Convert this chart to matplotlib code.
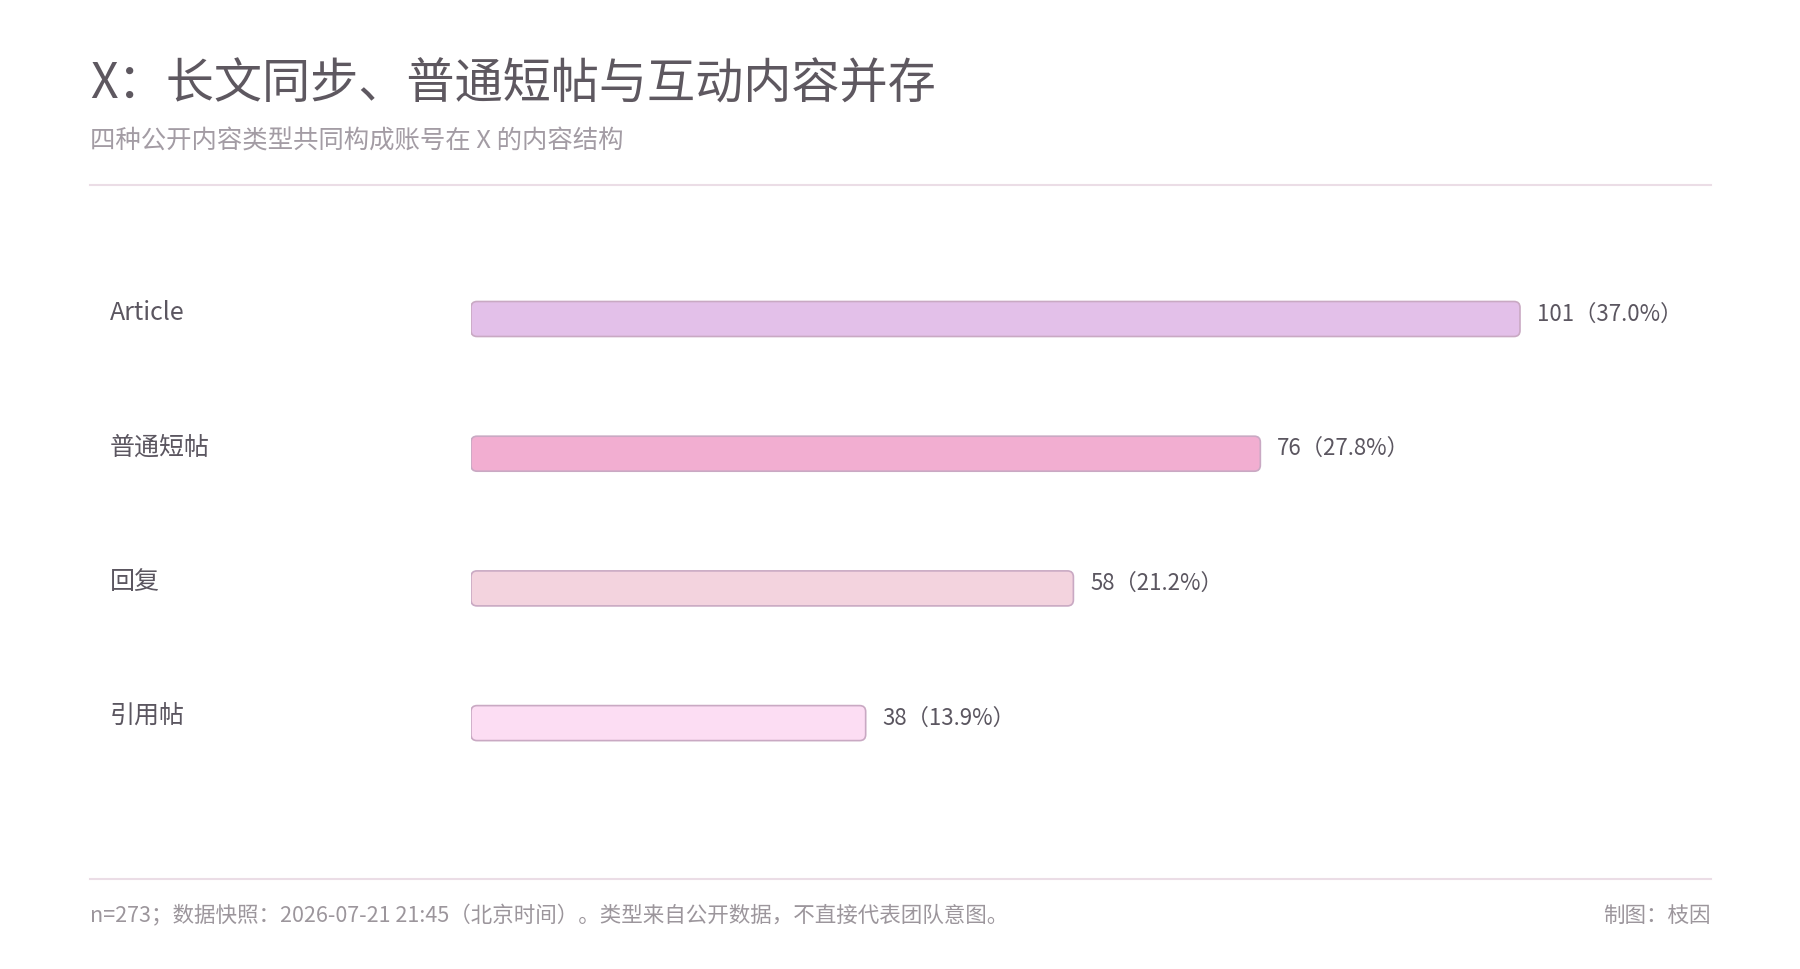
import matplotlib.pyplot as plt
from matplotlib.patches import FancyBboxPatch
from matplotlib.lines import Line2D

plt.rcParams['font.family'] = ['Noto Sans CJK SC', 'DejaVu Sans']

categories = ["Article", "普通短帖", "回复", "引用帖"]
counts = [101, 76, 58, 38]
shares = [37.0, 27.8, 21.2, 13.9]
bar_colors = ["#E3C0E9", "#F2AED1", "#F3D3DE", "#FCDDF3"]

W, H = 1800, 970
L, R = 90, 1711          # left / right page margins in px
TOP, BOT = 186, 880      # divider lines in px
fig = plt.figure(figsize=(18, 9.7), dpi=100)
fig.patch.set_facecolor("white")

px_x = (1520 - 471) / 101  # pixels per unit
px_y = 134.7
ax = fig.add_axes([471 / W, 1 - BOT / H, (R - 471) / W, (BOT - TOP) / H])
ax.set_xlim(0, (R - 471) / px_x)
top_val = -(320 - TOP) / px_y
ax.set_ylim(top_val + (BOT - TOP) / px_y, top_val)
ax.axis("off")

bh = 35 / px_y
for i, (c, v, p, col) in enumerate(zip(categories, counts, shares, bar_colors)):
    box = FancyBboxPatch((0, i - bh / 2), v, bh,
                         boxstyle="round,pad=0,rounding_size=%f" % (6 / px_x),
                         mutation_aspect=px_x / px_y,
                         facecolor=col, edgecolor="#C9A9C3", linewidth=1.2)
    ax.add_patch(box)
    ax.text(v + 17 / px_x, i - 6 / px_y, f"{v}（{p:.1f}%）", ha="left", va="center",
            fontsize=16, color="#5B5660")
    ax.text(-(471 - 110) / px_x, i - 7 / px_y, c, ha="left", va="center",
            fontsize=18, color="#5B5660")

fig.text(L / W, 1 - 85 / H, "X：长文同步、普通短帖与互动内容并存", ha="left", va="center",
         fontsize=34.7, color="#5E5860")
fig.text(L / W, 1 - 142 / H, "四种公开内容类型共同构成账号在 X 的内容结构", ha="left", va="center",
         fontsize=18.3, color="#A39CA4")
fig.add_artist(Line2D([L / W, R / W], [1 - TOP / H] * 2, color="#EBDDE6", lw=1.5))
fig.add_artist(Line2D([L / W, R / W], [1 - BOT / H] * 2, color="#EBDDE6", lw=1.5))
fig.text(L / W, 1 - 916 / H, "n=273；数据快照：2026-07-21 21:45（北京时间）。类型来自公开数据，不直接代表团队意图。",
         ha="left", va="center", fontsize=15.5, color="#9C969C")
fig.text(R / W, 1 - 916 / H, "制图：枝因", ha="right", va="center", fontsize=15.5, color="#9C969C")

fig.savefig("out.png", dpi=100, facecolor="white")
